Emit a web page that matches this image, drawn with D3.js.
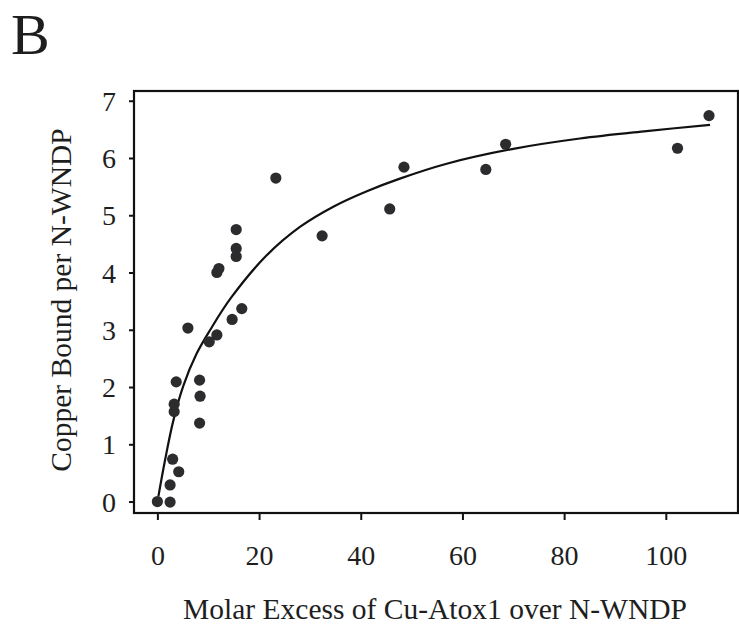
<!DOCTYPE html>
<html>
<head>
<meta charset="utf-8">
<script src="https://cdn.jsdelivr.net/npm/d3@7"></script>
<style>
  html, body { margin: 0; padding: 0; background: #fff; }
  svg { display: block; }
  text { font-family: "Liberation Serif", "DejaVu Serif", serif; fill: #1e1e1e; }
</style>
</head>
<body>
<svg id="chart" width="739" height="625"></svg>
<script>
// ---- data ----
const pointX = [0, 2.5, 2.5, 3.0, 4.2, 3.3, 3.3, 3.7, 8.3, 8.4, 8.3, 6.0, 10.2, 11.7, 14.7, 16.6,
                11.7, 12.1, 15.5, 15.5, 15.5, 23.3, 32.4, 45.7, 48.5, 64.6, 68.5, 102.3, 108.5];
const pointY = [0, -0.01, 0.29, 0.74, 0.52, 1.57, 1.70, 2.09, 2.12, 1.84, 1.37, 3.03, 2.79, 2.91, 3.18, 3.37,
                4.00, 4.07, 4.28, 4.42, 4.75, 5.65, 4.64, 5.11, 5.84, 5.80, 6.24, 6.17, 6.74];
const fitX = [0.2, 1.5, 3.1, 5.1, 7.7, 10.4, 14.5, 21.5, 28.1, 34.6, 41.2, 47.7, 56.9, 70.0, 83.1, 96.2, 108.7];
const fitY = [0.09, 0.72, 1.40, 2.02, 2.58, 3.00, 3.56, 4.30, 4.80, 5.15, 5.42, 5.64, 5.90, 6.16, 6.34, 6.47, 6.58];
const xTicks = [0, 20, 40, 60, 80, 100];
const yTicks = [0, 1, 2, 3, 4, 5, 6, 7];
const xTitle = "Molar Excess of Cu-Atox1 over N-WNDP";
const yTitle = "Copper Bound per N-WNDP";
const panelLabel = "B";

const svg = d3.select("#chart");
const pLeft = 134, pRight = 738, pTop = 91, pBottom = 513;

const x = d3.scaleLinear().domain([-4.6, 114.2]).range([pLeft, pRight]);
const y = d3.scaleLinear().domain([-0.2, 7.17]).range([pBottom, pTop]);

// panel label
svg.append("text").attr("x", 11).attr("y", 54)
  .style("font-size", "58px").text(panelLabel);

// frame
svg.append("rect").attr("x", pLeft).attr("y", pTop)
  .attr("width", pRight - pLeft).attr("height", pBottom - pTop)
  .attr("fill", "none").attr("stroke", "#111").attr("stroke-width", 2.2);

// x axis
const xAxis = svg.append("g").attr("transform", `translate(0,${pBottom})`)
  .call(d3.axisBottom(x).tickValues(xTicks).tickSize(7).tickFormat(d3.format("d")));
xAxis.select(".domain").remove();
xAxis.selectAll("line").attr("stroke", "#111").attr("stroke-width", 2);
xAxis.selectAll("text").style("font-size", "28px").attr("fill", "#1e1e1e")
  .attr("y", 565 - pBottom).attr("dy", 0);

// y axis
const yAxis = svg.append("g").attr("transform", `translate(${pLeft},0)`)
  .call(d3.axisLeft(y).tickValues(yTicks).tickSize(5).tickFormat(d3.format("d")));
yAxis.select(".domain").remove();
yAxis.selectAll("line").attr("stroke", "#111").attr("stroke-width", 2);
yAxis.selectAll("text").style("font-size", "28px").attr("fill", "#1e1e1e")
  .attr("x", 116 - pLeft).attr("dy", "0.34em");

// axis titles
svg.append("text").attr("x", 435).attr("y", 619).attr("text-anchor", "middle")
  .style("font-size", "29.5px").text(xTitle);
svg.append("text").attr("transform", `translate(71,300) rotate(-90)`).attr("text-anchor", "middle")
  .style("font-size", "29.5px").text(yTitle);

// fitted curve
const fit = fitX.map((d, i) => [d, fitY[i]]);
svg.append("path").datum(fit)
  .attr("fill", "none").attr("stroke", "#111").attr("stroke-width", 2.2)
  .attr("d", d3.line().x(d => x(d[0])).y(d => y(d[1])).curve(d3.curveCatmullRom.alpha(0.5)));

// points
svg.append("g").selectAll("circle").data(pointX.map((d, i) => [d, pointY[i]]))
  .join("circle")
  .attr("cx", d => x(d[0])).attr("cy", d => y(d[1])).attr("r", 5.6)
  .attr("fill", "#2c2c2e");
</script>
</body>
</html>
